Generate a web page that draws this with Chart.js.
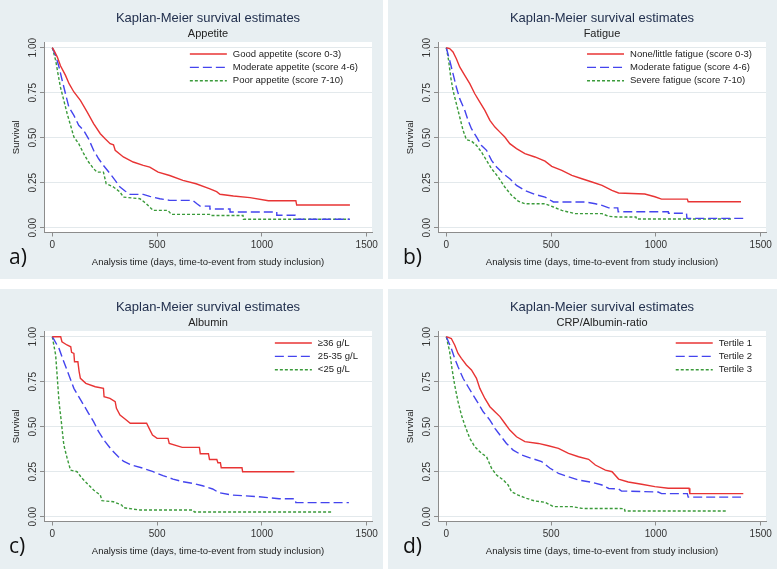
<!DOCTYPE html>
<html>
<head>
<meta charset="utf-8">
<script src="https://cdn.jsdelivr.net/npm/chart.js@4.4.1/dist/chart.umd.min.js"></script>
<style>
  body { margin: 0; background: #fff; width: 777px; height: 569px; overflow: hidden; position: relative; }
  .panel { position: absolute; width: 389px; background: #e8eff2; }
  canvas { display: block; }
</style>
</head>
<body>
<div class="panel" style="left:-6px; top:0; height:279px"><canvas id="km-a" width="389" height="279"></canvas></div>
<div class="panel" style="left:388px; top:0; height:279px"><canvas id="km-b" width="389" height="279"></canvas></div>
<div class="panel" style="left:-6px; top:289px; height:280px"><canvas id="km-c" width="389" height="280"></canvas></div>
<div class="panel" style="left:388px; top:289px; height:280px"><canvas id="km-d" width="389" height="280"></canvas></div>
<script>
// axis ticks
const xTicks = [0, 500, 1000, 1500];
const yTicks = [0, 0.25, 0.5, 0.75, 1];

// a) Appetite
const appetiteLabels = ['Good appetite (score 0-3)', 'Moderate appetite (score 4-6)', 'Poor appetite (score 7-10)'];
const appGoodDays = [0, 8, 24, 39, 63, 80, 103, 134, 166, 197, 229, 252, 276, 292, 300, 339, 386, 434, 465, 505, 560, 623, 686, 749, 784, 800, 864, 943, 1031, 1162, 1166, 1420];
const appGoodSurv = [1, 0.985, 0.948, 0.9, 0.846, 0.8, 0.754, 0.707, 0.643, 0.578, 0.522, 0.494, 0.467, 0.46, 0.43, 0.393, 0.365, 0.346, 0.337, 0.309, 0.29, 0.263, 0.244, 0.217, 0.2, 0.186, 0.176, 0.167, 0.15, 0.15, 0.126, 0.126];
const appModDays = [0, 16, 32, 47, 63, 79, 103, 126, 150, 173, 197, 221, 244, 276, 300, 323, 347, 371, 434, 465, 513, 560, 670, 690, 705, 752, 752, 848, 848, 1071, 1071, 1158, 1158, 1420];
const appModSurv = [1, 0.957, 0.893, 0.819, 0.744, 0.67, 0.624, 0.569, 0.54, 0.494, 0.43, 0.383, 0.346, 0.3, 0.263, 0.226, 0.204, 0.185, 0.185, 0.174, 0.161, 0.152, 0.152, 0.133, 0.12, 0.12, 0.104, 0.104, 0.087, 0.087, 0.069, 0.069, 0.047, 0.047];
const appPoorDays = [0, 16, 27, 39, 55, 71, 87, 103, 126, 150, 173, 197, 213, 244, 257, 292, 323, 339, 418, 449, 481, 552, 568, 750, 754, 910, 912, 1417];
const appPoorSurv = [1, 0.93, 0.856, 0.78, 0.707, 0.633, 0.569, 0.504, 0.467, 0.411, 0.365, 0.328, 0.309, 0.309, 0.244, 0.226, 0.198, 0.17, 0.161, 0.133, 0.096, 0.096, 0.074, 0.074, 0.068, 0.068, 0.047, 0.047];

// b) Fatigue
const fatigueLabels = ['None/little fatigue (score 0-3)', 'Moderate fatigue (score 4-6)', 'Severe fatigue (score 7-10)'];
const fatNoneDays = [0, 16, 32, 48, 64, 88, 112, 136, 160, 184, 208, 232, 256, 279, 303, 335, 375, 423, 471, 503, 551, 599, 647, 695, 743, 790, 822, 947, 995, 1027, 1150, 1154, 1406];
const fatNoneSurv = [1, 0.995, 0.976, 0.939, 0.893, 0.846, 0.8, 0.744, 0.698, 0.652, 0.596, 0.559, 0.531, 0.504, 0.467, 0.439, 0.411, 0.393, 0.37, 0.341, 0.319, 0.291, 0.272, 0.254, 0.235, 0.207, 0.193, 0.187, 0.172, 0.159, 0.159, 0.144, 0.144];
const fatModDays = [0, 16, 32, 48, 64, 88, 104, 120, 144, 168, 192, 216, 240, 272, 303, 335, 375, 423, 471, 511, 663, 711, 743, 775, 818, 820, 1059, 1060, 1146, 1148, 1417];
const fatModSurv = [1, 0.93, 0.856, 0.78, 0.717, 0.652, 0.596, 0.55, 0.504, 0.457, 0.43, 0.374, 0.337, 0.3, 0.272, 0.235, 0.207, 0.185, 0.17, 0.143, 0.143, 0.133, 0.124, 0.11, 0.11, 0.089, 0.089, 0.08, 0.08, 0.052, 0.052];
const fatSevDays = [0, 11, 21, 32, 48, 64, 80, 96, 120, 144, 168, 192, 216, 248, 279, 311, 343, 375, 471, 511, 551, 615, 743, 775, 822, 905, 908, 1361];
const fatSevSurv = [1, 0.93, 0.837, 0.763, 0.689, 0.615, 0.541, 0.489, 0.481, 0.457, 0.42, 0.374, 0.328, 0.281, 0.226, 0.18, 0.148, 0.133, 0.133, 0.115, 0.096, 0.078, 0.078, 0.063, 0.059, 0.059, 0.048, 0.048];

// c) Albumin
const albuminLabels = ['≥36 g/L', '25-35 g/L', '<25 g/L'];
const albHighDays = [0, 40, 46, 70, 88, 92, 103, 106, 122, 128, 134, 160, 205, 244, 247, 275, 300, 306, 323, 347, 372, 450, 462, 478, 500, 552, 558, 620, 702, 706, 745, 750, 785, 790, 802, 806, 905, 908, 1155];
const albHighSurv = [1, 1, 0.972, 0.954, 0.944, 0.913, 0.907, 0.861, 0.861, 0.806, 0.769, 0.741, 0.722, 0.713, 0.667, 0.657, 0.639, 0.602, 0.565, 0.543, 0.519, 0.519, 0.491, 0.454, 0.435, 0.435, 0.407, 0.385, 0.385, 0.35, 0.35, 0.318, 0.318, 0.3, 0.3, 0.272, 0.272, 0.25, 0.25];
const albMidDays = [0, 32, 55, 79, 103, 126, 150, 173, 197, 221, 252, 284, 315, 339, 378, 434, 481, 528, 576, 623, 670, 717, 765, 796, 860, 987, 1082, 1158, 1162, 1415];
const albMidSurv = [1, 0.935, 0.861, 0.787, 0.713, 0.667, 0.62, 0.574, 0.528, 0.472, 0.417, 0.37, 0.333, 0.309, 0.287, 0.269, 0.25, 0.228, 0.209, 0.194, 0.185, 0.172, 0.154, 0.133, 0.12, 0.111, 0.1, 0.1, 0.078, 0.078];
const albLowDays = [0, 16, 24, 32, 43, 55, 71, 87, 118, 142, 166, 197, 229, 237, 292, 331, 339, 418, 670, 678, 1336];
const albLowSurv = [1, 0.898, 0.769, 0.639, 0.528, 0.398, 0.324, 0.259, 0.25, 0.213, 0.185, 0.148, 0.12, 0.089, 0.083, 0.065, 0.05, 0.037, 0.037, 0.026, 0.026];

// d) CRP/Albumin-ratio
const crpLabels = ['Tertile 1', 'Tertile 2', 'Tertile 3'];
const crpT1Days = [0, 24, 40, 56, 72, 96, 120, 144, 160, 184, 208, 232, 256, 279, 303, 335, 375, 439, 487, 535, 583, 631, 679, 711, 759, 791, 822, 868, 932, 995, 1059, 1158, 1162, 1417];
const crpT1Surv = [1, 0.99, 0.954, 0.907, 0.88, 0.843, 0.815, 0.769, 0.713, 0.657, 0.611, 0.583, 0.556, 0.519, 0.481, 0.444, 0.417, 0.407, 0.394, 0.38, 0.352, 0.333, 0.319, 0.287, 0.259, 0.25, 0.209, 0.193, 0.18, 0.167, 0.158, 0.158, 0.128, 0.128];
const crpT2Days = [0, 24, 40, 56, 80, 104, 128, 152, 176, 208, 232, 256, 287, 319, 359, 407, 455, 495, 535, 583, 631, 695, 743, 775, 822, 836, 1011, 1027, 1150, 1154, 1406];
const crpT2Surv = [1, 0.935, 0.88, 0.833, 0.769, 0.722, 0.676, 0.63, 0.583, 0.537, 0.491, 0.454, 0.407, 0.37, 0.343, 0.324, 0.306, 0.269, 0.241, 0.222, 0.204, 0.191, 0.176, 0.157, 0.154, 0.143, 0.137, 0.128, 0.128, 0.109, 0.109];
const crpT3Days = [0, 16, 27, 40, 56, 72, 88, 112, 136, 168, 192, 216, 240, 272, 295, 311, 343, 383, 423, 471, 511, 600, 647, 850, 852, 1338];
const crpT3Surv = [1, 0.917, 0.824, 0.731, 0.639, 0.565, 0.509, 0.435, 0.389, 0.352, 0.333, 0.269, 0.231, 0.204, 0.176, 0.139, 0.12, 0.102, 0.087, 0.08, 0.056, 0.056, 0.046, 0.045, 0.032, 0.032];

const lineStyles = [
  { color: '#e83434', dash: [] },
  { color: '#4444ee', dash: [9, 4] },
  { color: '#3b9b3b', dash: [3, 2] },
];
const FONT = '"Liberation Sans", Arial, sans-serif';

// white plot region, titles, legend and panel letter
const panelText = {
  id: 'panelText',
  beforeDraw(chart) {
    const { ctx, chartArea: a } = chart;
    ctx.save();
    ctx.fillStyle = '#ffffff';
    ctx.fillRect(a.left, a.top, a.right - a.left, a.bottom - a.top);
    ctx.restore();
  },
  afterDraw(chart, args, opts) {
    const { ctx, chartArea: a } = chart;
    const mid = (a.left + a.right) / 2;
    ctx.save();
    ctx.textAlign = 'center';
    ctx.textBaseline = 'middle';
    ctx.fillStyle = '#22304e';
    ctx.font = '13px ' + FONT;
    ctx.fillText(opts.title, mid, 18.5);
    ctx.fillStyle = '#222';
    ctx.font = '11px ' + FONT;
    ctx.fillText(opts.subtitle, mid, 33.5);

    // legend, top right inside the plot
    ctx.font = '9.5px ' + FONT;
    ctx.textAlign = 'left';
    const sets = chart.data.datasets;
    const widest = Math.max(...sets.map(d => ctx.measureText(d.label).width));
    const textX = a.right - 14 - widest;
    sets.forEach((d, i) => {
      const y = a.top + 12 + i * 13.4;
      ctx.strokeStyle = d.borderColor;
      ctx.lineWidth = d.borderWidth;
      ctx.setLineDash(d.borderDash);
      ctx.beginPath();
      ctx.moveTo(textX - 43, y);
      ctx.lineTo(textX - 6, y);
      ctx.stroke();
      ctx.setLineDash([]);
      ctx.fillStyle = '#222';
      ctx.fillText(d.label, textX, y);
    });

    ctx.textBaseline = 'alphabetic';
    ctx.fillStyle = '#111';
    ctx.font = '21px "Open Sans", ' + FONT;
    ctx.fillText(opts.letter, 15, 264);
    ctx.restore();
  }
};

function makePanel(id, subtitle, letter, labels, series) {
  const canvas = document.getElementById(id);
  const h = canvas.height;
  return new Chart(canvas.getContext('2d'), {
    type: 'line',
    data: {
      datasets: series.map((s, i) => ({
        label: labels[i],
        data: s[0].map((d, j) => ({ x: d, y: s[1][j] })),
        borderColor: lineStyles[i].color,
        borderDash: lineStyles[i].dash,
        borderWidth: 1.4,
        pointRadius: 0,
        tension: 0,
        fill: false,
      })),
    },
    options: {
      responsive: false,
      animation: false,
      events: [],
      layout: { padding: { left: 0, right: 11, top: 42, bottom: 0 } },
      plugins: {
        legend: { display: false },
        tooltip: { enabled: false },
        panelText: { title: 'Kaplan-Meier survival estimates', subtitle: subtitle, letter: letter },
      },
      scales: {
        x: {
          type: 'linear',
          min: -39.6,
          max: 1525.3,
          afterBuildTicks: s => { s.ticks = xTicks.map(v => ({ value: v })); },
          afterFit: s => { s.height = h - 232.5; },
          ticks: { callback: v => String(v), font: { family: FONT, size: 10 }, color: '#333', padding: 3, maxRotation: 0 },
          grid: { drawOnChartArea: false, tickLength: 4, tickColor: '#8c8c8c' },
          border: { color: '#8c8c8c' },
          title: {
            display: true,
            text: 'Analysis time (days, time-to-event from study inclusion)',
            font: { family: FONT, size: 9.5 },
            color: '#222',
            padding: { top: 0, bottom: h - 279 + 11.3 },
          },
        },
        y: {
          min: -0.0267,
          max: 1.0317,
          afterBuildTicks: s => { s.ticks = yTicks.map(v => ({ value: v })); },
          afterFit: s => { s.width = 50; },
          ticks: { callback: v => v.toFixed(2), font: { family: FONT, size: 10 }, color: '#333', minRotation: 90, maxRotation: 90, crossAlign: 'center', padding: -3 },
          grid: { color: '#e3e9ec', tickLength: 4, tickColor: '#8c8c8c' },
          border: { color: '#8c8c8c' },
          title: {
            display: true,
            text: 'Survival',
            font: { family: FONT, size: 9.5 },
            color: '#222',
            padding: { top: 17, bottom: 0 },
          },
        },
      },
    },
    plugins: [panelText],
  });
}

makePanel('km-a', 'Appetite', 'a)', appetiteLabels,
  [[appGoodDays, appGoodSurv], [appModDays, appModSurv], [appPoorDays, appPoorSurv]]);
makePanel('km-b', 'Fatigue', 'b)', fatigueLabels,
  [[fatNoneDays, fatNoneSurv], [fatModDays, fatModSurv], [fatSevDays, fatSevSurv]]);
makePanel('km-c', 'Albumin', 'c)', albuminLabels,
  [[albHighDays, albHighSurv], [albMidDays, albMidSurv], [albLowDays, albLowSurv]]);
makePanel('km-d', 'CRP/Albumin-ratio', 'd)', crpLabels,
  [[crpT1Days, crpT1Surv], [crpT2Days, crpT2Surv], [crpT3Days, crpT3Surv]]);
</script>
</body>
</html>
